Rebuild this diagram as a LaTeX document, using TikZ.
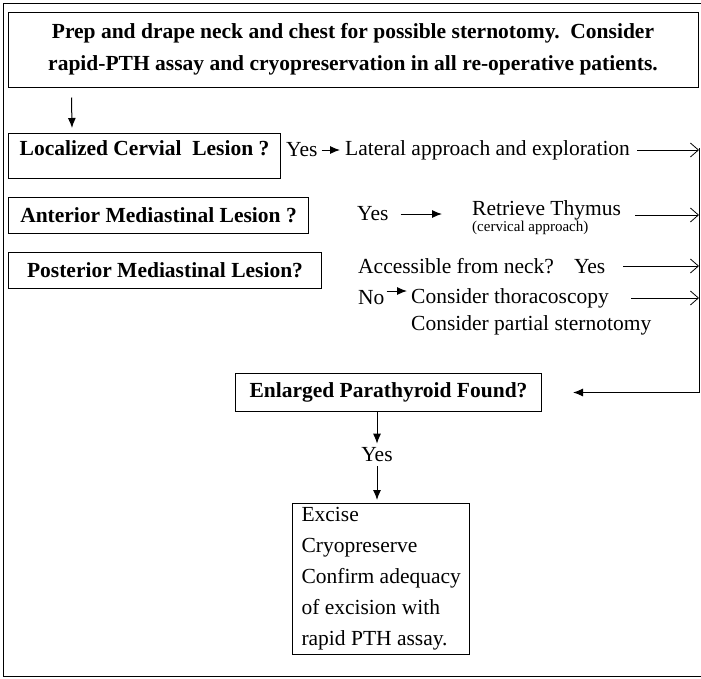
\documentclass[tikz,border=0pt]{standalone}
\usepackage{fontspec}
\setmainfont{Liberation Serif}
\usetikzlibrary{arrows.meta, positioning}

\begin{document}
\begin{tikzpicture}[
    x=1pt, y=-1pt,
    font=\fontsize{21.5}{32}\selectfont,
    qbox/.style={rectangle, draw, line width=1pt, font=\fontsize{21.5}{32}\selectfont\bfseries, inner xsep=9pt, inner ysep=3pt},
    txt/.style={anchor=west, inner sep=2pt},
    darrow/.style={-{Latex[length=10pt, width=8pt]}, line width=1pt},
    oarrow/.style={-{Straight Barb[length=8pt, width=14pt]}, line width=0.8pt}
]

\useasboundingbox (0,0) rectangle (701,678);

% Outer frame
\draw[line width=1pt] (701,3) -- (3,3) -- (3,676) -- (701,676);

% Preparation
\node[qbox, minimum width=690pt, minimum height=75pt, align=center] (prep) at (353,49.5)
    {Prep and drape neck and chest for possible sternotomy.\enspace Consider\\rapid-PTH assay and cryopreservation in all re-operative patients.};

% Lesion questions
\node[qbox, anchor=north west, minimum width=272pt, text height=19pt, text depth=20pt] (cervical) at (8,133) {Localized Cervial\ \ Lesion ?};
\node[qbox, anchor=north west, minimum width=300pt, minimum height=36pt] (anterior) at (8,197) {Anterior Mediastinal Lesion ?};
\node[qbox, anchor=north west, minimum width=313pt, minimum height=36pt] (posterior) at (8,252) {Posterior Mediastinal Lesion?};

% Answers
\node[txt] (yes1) at (284,150) {Yes};
\node[txt] (lateral) at (343,150) {Lateral approach and exploration};
\node[txt] (yes2) at (355,214) {Yes};
\node[txt] (thymus) at (470,210) {Retrieve Thymus};
\node[txt, font=\fontsize{15}{18}\selectfont] (cervap) at (470,228) {(cervical approach)};
\node[txt] (access) at (356,266) {Accessible from neck?\hspace{20pt}Yes};
\node[txt] (no) at (356,298) {No};
\node[txt] (thoraco) at (409,298) {Consider thoracoscopy};
\node[txt] (partial) at (409,325) {Consider partial sternotomy};

% Found?
\node[qbox, anchor=north west, minimum width=306pt, minimum height=38pt] (found) at (235,373) {Enlarged Parathyroid Found?};
\node[txt, anchor=center] (yes3) at (377,455) {Yes};
\node[rectangle, draw, line width=1pt, anchor=north west, minimum width=176pt, minimum height=147pt, align=left, inner xsep=9pt, inner ysep=4pt, font=\fontsize{21.5}{31}\selectfont] (result) at (292,503)
    {Excise\\Cryopreserve\\Confirm adequacy\\of excision with\\rapid PTH assay.};

% Right collector bar
\coordinate (bartop) at (699,148);
\coordinate (barbot) at (699,392);

% Connections
\draw[darrow] ([xshift=64pt, yshift=-10pt]prep.south west) -- ([xshift=64pt, yshift=5pt]cervical.north west);
\draw[darrow, shorten <=2pt, shorten >=3pt] (yes1.east) -- (lateral.west);
\draw[darrow, shorten <=10pt, shorten >=28pt] (yes2.east) -- (yes2.east -| thymus.west);
\draw[darrow, shorten <=0pt, shorten >=2pt] ([yshift=7pt]no.east) -- ([yshift=7pt]thoraco.west);
\draw[oarrow, shorten <=5pt] (lateral.east) -- (lateral.east -| bartop);
\draw[oarrow, shorten <=12pt] ([yshift=-5pt]thymus.east) -- ([yshift=-5pt]thymus.east -| bartop);
\draw[oarrow, shorten <=16pt] (access.east) -- (access.east -| bartop);
\draw[oarrow, shorten <=20pt] (thoraco.east) -- (thoraco.east -| bartop);
\draw[darrow] (bartop) |- ([xshift=31pt]found.east);
\draw[darrow, shorten >=2pt] (found.south -| yes3) -- (yes3.north);
\draw[darrow, shorten <=2pt, shorten >=3pt] (yes3.south) -- (result.north -| yes3);

\end{tikzpicture}
\end{document}
